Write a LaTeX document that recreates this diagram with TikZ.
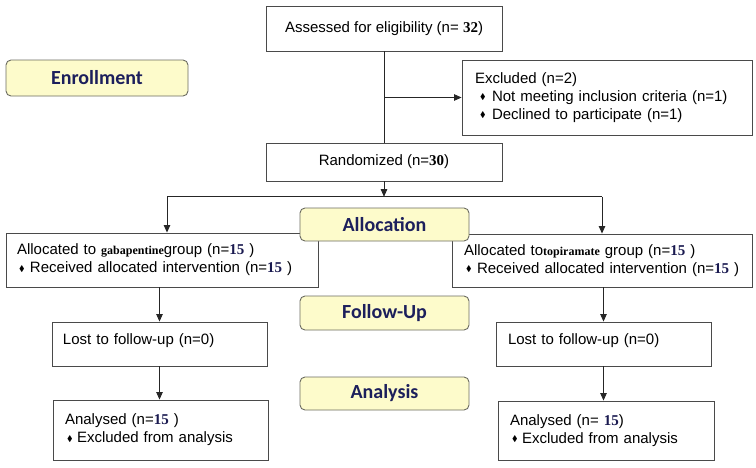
\documentclass[tikz,border=0pt]{standalone}
\usepackage{fontspec}
\usepackage{amssymb}
\usepackage{graphicx}
\setmainfont{Liberation Sans}
\newfontfamily\numfont{Liberation Serif}
\newfontfamily\phasefont{Carlito}
\usetikzlibrary{arrows.meta}
\definecolor{boxline}{HTML}{4A4A4A}
\definecolor{phasefill}{HTML}{FDFBCB}
\definecolor{phasetext}{HTML}{1C1F5C}
\definecolor{phaseline}{HTML}{6B6B60}
\definecolor{numnavy}{HTML}{1A1A50}
\newcommand{\bul}{\raisebox{1.5pt}{\scalebox{0.55}{$\blacklozenge$}}}
\newcommand{\nb}[1]{{\numfont\bfseries #1}}
\newcommand{\nn}[1]{{\numfont\bfseries\color{numnavy}#1}}
\newcommand{\drug}[1]{{\numfont\bfseries\fontsize{12}{14}\selectfont #1}}
\begin{document}
\begin{tikzpicture}[x=1pt,y=-1pt,
  font=\fontsize{15}{18}\selectfont,
  box/.style={draw=boxline, line width=0.9pt, rectangle, inner ysep=0pt},
  phase/.style={draw=phaseline, fill=phasefill, line width=0.9pt, rounded corners=5pt,
    font=\phasefont\bfseries\fontsize{20}{22}\selectfont, text=phasetext,
    minimum width=169pt, minimum height=33pt, inner sep=0pt},
  arr/.style={draw=black!85, line width=0.9pt, -{Triangle[length=7.5pt,width=6.5pt]}},
  ln/.style={draw=black!85, line width=0.9pt}]
\useasboundingbox (0,0) rectangle (756,467);

\node[box, minimum width=236pt, minimum height=45pt] (assess) at (384,28.5)
  {Assessed for eligibility (n= \nb{32})};
\node[box, minimum width=290pt, minimum height=75pt, inner xsep=13pt, text width=264pt, align=left] (excl) at (607,97.5)
  {Excluded (n=2)\\
   \hspace*{5pt}\makebox[12pt][l]{\bul}Not meeting inclusion criteria (n=1)\\
   \hspace*{5pt}\makebox[12pt][l]{\bul}Declined to participate (n=1)};
\node[box, minimum width=236pt, minimum height=38pt] (rand) at (384,162)
  {Randomized (n=\nb{30})};

\node[phase, minimum width=182pt, minimum height=36pt] (enroll) at (97,78) {Enrollment};

\node[box, minimum width=312pt, minimum height=54pt, inner xsep=11pt, text width=290pt, align=left] (allocL) at (162,260)
  {Allocated to \drug{gabapentine}group (n=\nn{15} )\\
   \hspace*{2pt}\makebox[11pt][l]{\bul}Received allocated intervention (n=\nn{15} )};
\node[box, minimum width=300pt, minimum height=53pt, inner xsep=12pt, text width=276pt, align=left] (allocR) at (602,260.5)
  {Allocated to\drug{topiramate} group (n=\nn{15} )\\
   \hspace*{2pt}\makebox[11pt][l]{\bul}Received allocated intervention (n=\nn{15} )};

\node[phase] (alloc) at (384.5,224.5) {Allocation};
\node[phase, minimum height=34pt] (follow) at (384.5,313) {Follow-Up};
\node[phase] (analysis) at (384.5,393.5) {Analysis};

\node[box, minimum width=215pt, minimum height=44pt, inner xsep=11pt, text width=193pt, text depth=9pt] (lostL) at (159.5,344)
  {Lost to follow-up (n=0)};
\node[box, minimum width=215pt, minimum height=44pt, inner xsep=12pt, text width=191pt, text depth=9pt] (lostR) at (603.5,344)
  {Lost to follow-up (n=0)};

\node[box, minimum width=215pt, minimum height=60pt, inner xsep=12pt, text width=191pt, align=left] (analL) at (160.5,430)
  {Analysed (n=\nn{15} )\\
   \hspace*{2pt}\makebox[10pt][l]{\bul}Excluded from analysis};
\node[box, minimum width=216pt, minimum height=59pt, inner xsep=12pt, text width=192pt, align=left] (analR) at (606,430.5)
  {Analysed (n= \nn{15})\\
   \hspace*{2pt}\makebox[10pt][l]{\bul}Excluded from analysis};

% connectors
\draw[ln] (assess.south) -- (rand.north);
\draw[arr] (assess.south |- excl.west) -- (excl.west);
\coordinate (split) at (384,196.7);
\coordinate (sl) at (167,196.7);
\coordinate (sr) at (602,196.7);
\draw[arr] (rand.south) -- (split);
\draw[ln] (sl) -- (sr);
\draw[arr] (sl) -- (sl |- allocL.north);
\draw[arr] (sr) -- (sr |- allocR.north);
\draw[arr] (lostL.north |- allocL.south) -- (lostL.north);
\draw[arr] (lostL.south) -- (lostL.south |- analL.north);
\draw[arr] (lostR.north |- allocR.south) -- (lostR.north);
\draw[arr] (lostR.south) -- (lostR.south |- analR.north);
\end{tikzpicture}
\end{document}
